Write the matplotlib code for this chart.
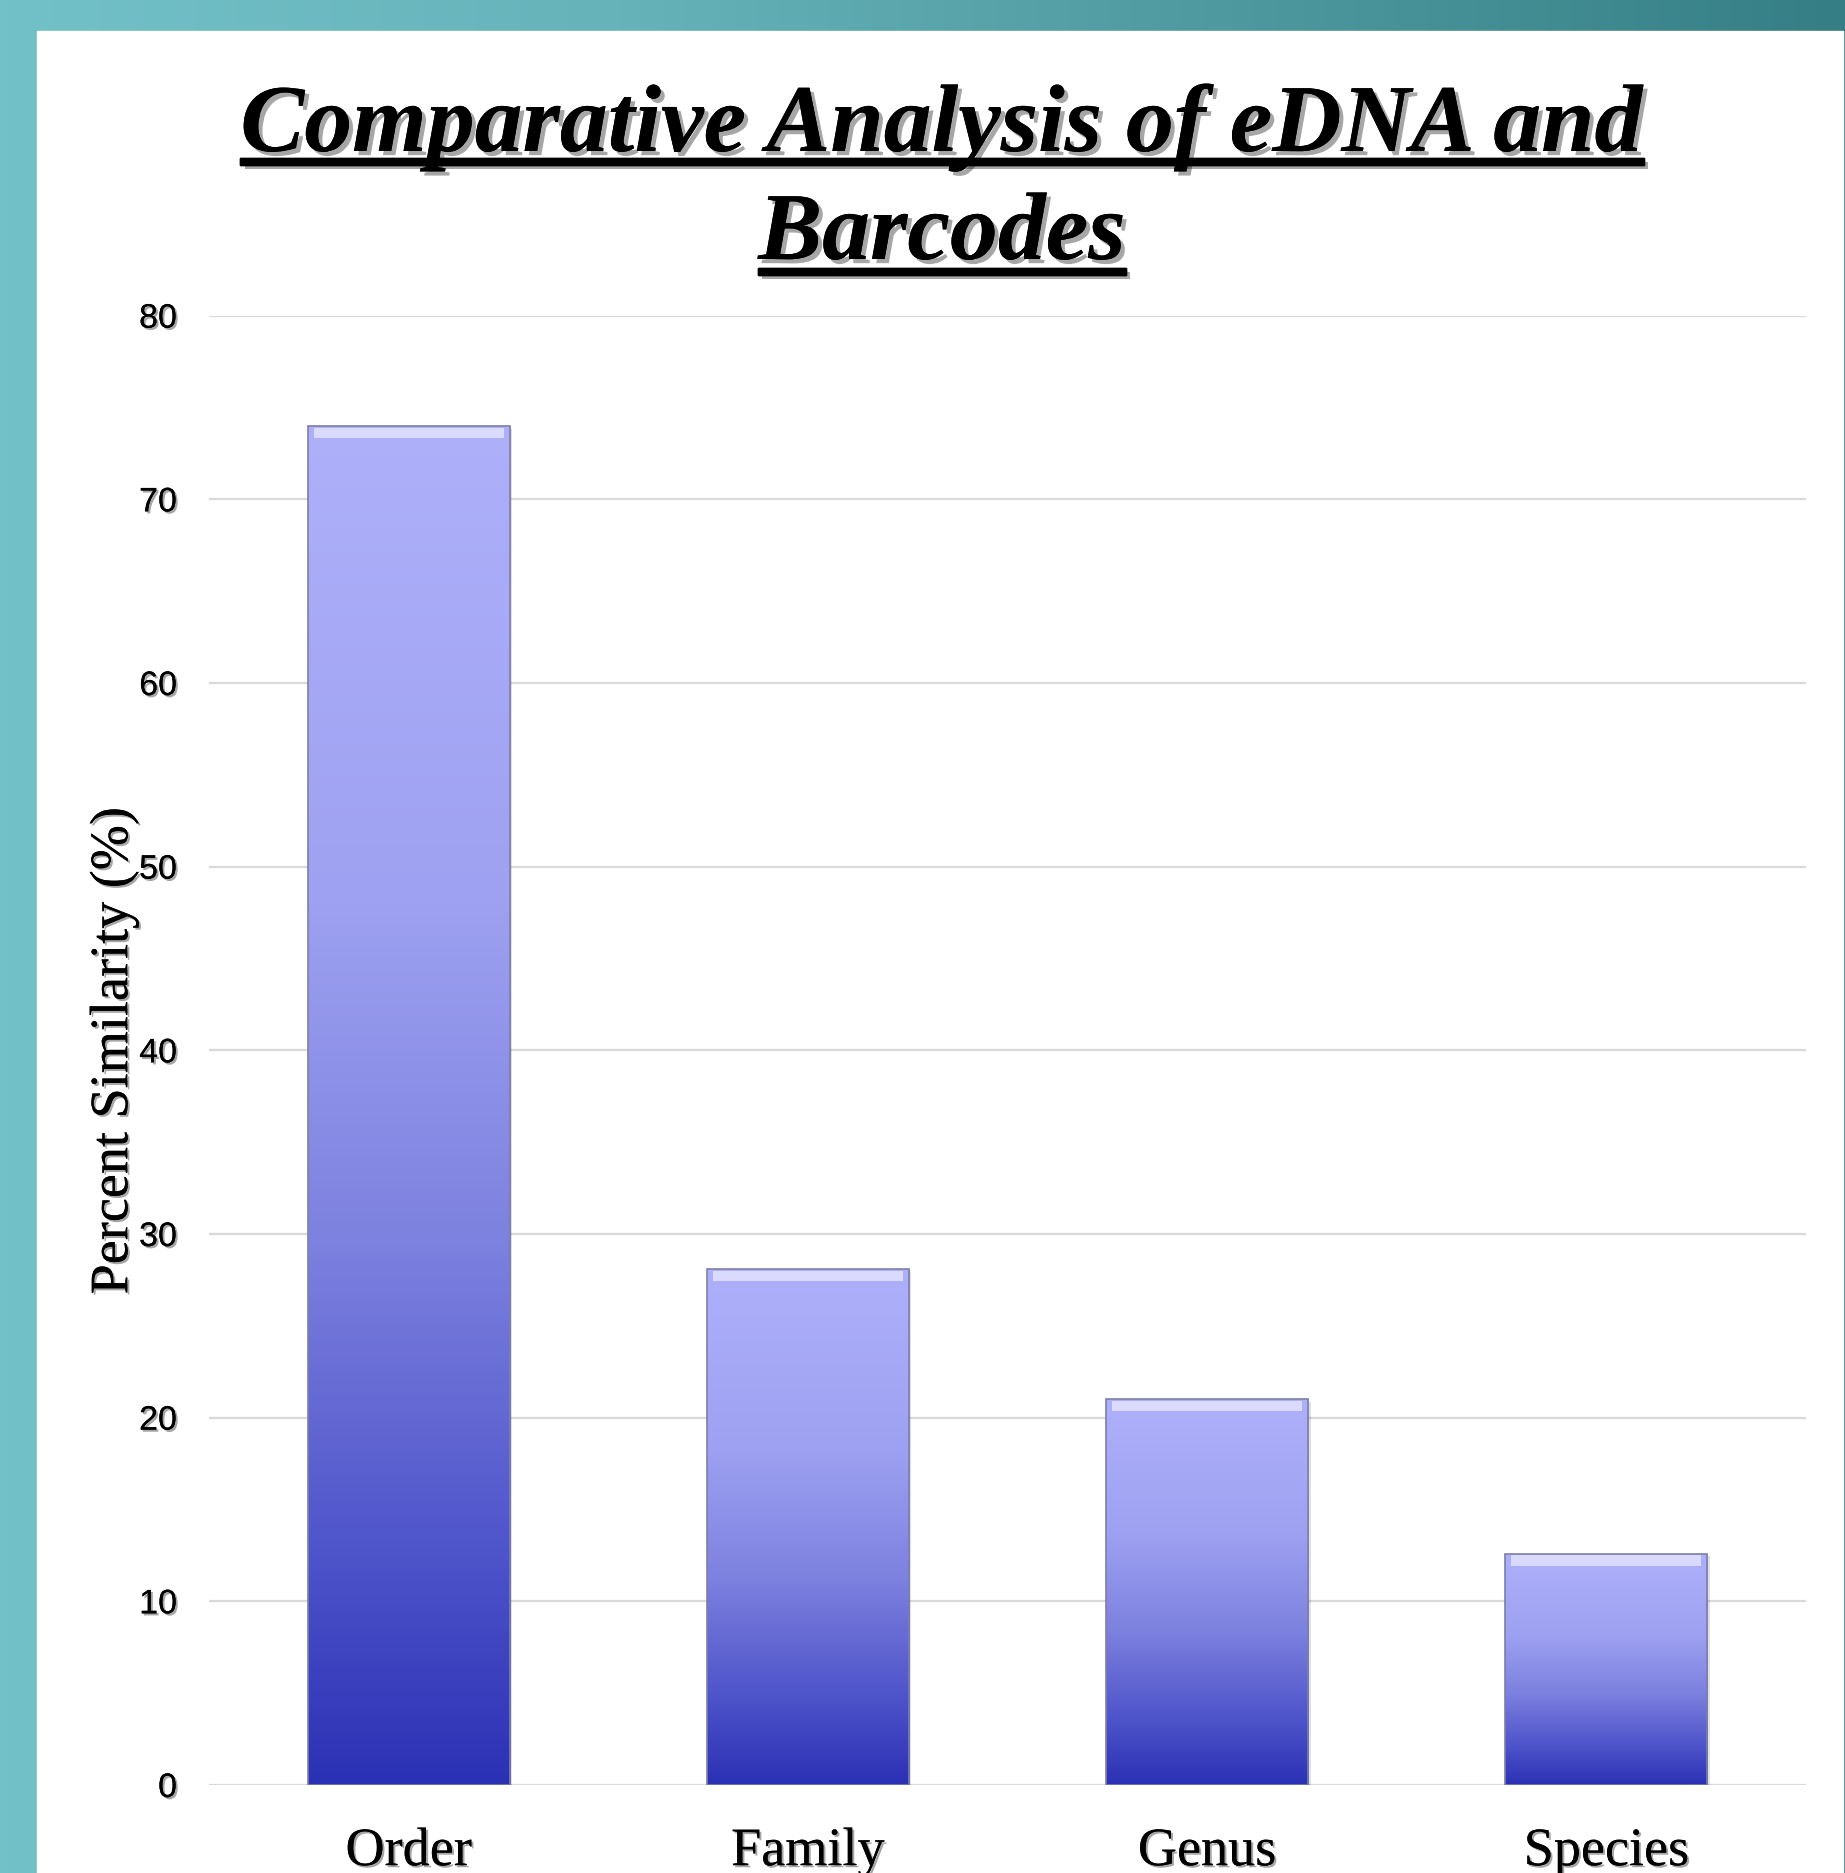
import matplotlib
matplotlib.use('Agg')
import matplotlib.pyplot as plt
import matplotlib.patheffects as pe
from matplotlib.colors import LinearSegmentedColormap
from matplotlib.patches import Rectangle
import numpy as np

##### data
categories = ['Order', 'Family', 'Genus', 'Species']
similarity = [74, 28.1, 21, 12.6]
yticks = [0, 10, 20, 30, 40, 50, 60, 70, 80]
title_lines = ['Comparative Analysis of eDNA and', 'Barcodes']
ylabel = 'Percent Similarity (%)'

W, H = 1845, 1874
fig = plt.figure(figsize=(W/100, H/100), dpi=100)

### teal frame with a horizontal gradient, white page on top
bg = fig.add_axes([0, 0, 1, 1], zorder=-10)
teal = LinearSegmentedColormap.from_list('teal', ['#73c1c8', '#66b3ba', '#4e999f', '#357e85'])
bg.imshow(np.linspace(0, 1, 256)[None, :], cmap=teal, aspect='auto', extent=[0, 1, 0, 1])
bg.add_patch(Rectangle((37/W, 0), (1843-37)/W, 1 - 32/H, color='white', transform=bg.transAxes))
bg.set_xlim(0, 1); bg.set_ylim(0, 1)
bg.axis('off')

### main axes
ax = fig.add_axes([209/W, 88/H, (1806-209)/W, (1786-316.7)/H])
ax.set_xlim(-0.5, 3.5)
ax.set_ylim(0, 80)
for s in ax.spines.values():
    s.set_visible(False)
ax.set_yticks(yticks)
ax.yaxis.grid(True, color='#d9d9d9', linewidth=1.6)
ax.set_axisbelow(True)
ax.tick_params(axis='y', length=0, pad=23, labelsize=24.5)
ax.tick_params(axis='x', length=0, pad=30)
shadow = [pe.withSimplePatchShadow(offset=(1.5, -1.5), alpha=0.35), pe.Normal()]
for lab in ax.get_yticklabels():
    lab.set_fontfamily('Liberation Sans')
    lab.set_path_effects(shadow)

bars = ax.bar(categories, similarity, width=0.506, color='none', edgecolor='#7d7fa8', linewidth=1.2, zorder=3)
ax.set_xticks(range(len(categories)))
ax.set_xticklabels(categories, fontfamily='Liberation Serif', fontsize=39)
for lab in ax.get_xticklabels():
    lab.set_path_effects(shadow)

bar_cmap = LinearSegmentedColormap.from_list('bar', [(0, '#aeb0fa'), (0.35, '#9ea1f1'), (0.6, '#7d81df'),
                                                      (0.82, '#5056cb'), (1, '#2b31b4')])
grad = np.linspace(0, 1, 256)[:, None]
for b in bars:
    x0, w, h = b.get_x(), b.get_width(), b.get_height()
    # soft drop shadow to the right
    ax.add_patch(Rectangle((x0 + 0.006, -0.15), w, h, color='#000000', alpha=0.12, zorder=1.5, linewidth=0))
    im = ax.imshow(grad, cmap=bar_cmap, aspect='auto', extent=[x0, x0 + w, 0, h], zorder=2)
    im.set_clip_path(b)
    # bevel highlight at the top
    ax.fill_between([x0 + 0.015, x0 + w - 0.015], h - 0.65, h - 0.1, color='white', alpha=0.55, zorder=2.5, linewidth=0)
ax.set_xlim(-0.5, 3.5)
ax.set_ylim(0, 80)

### y label
fig.text(114/W, 1 - 1052/H, ylabel, rotation=90, ha='center', va='center',
         fontfamily='Liberation Serif', fontsize=39, path_effects=shadow)

### title with underline
tshadow = [pe.withSimplePatchShadow(offset=(3, -3), alpha=0.35), pe.Normal()]
t1 = fig.text(942/W, 1 - 152/H, title_lines[0], ha='center', va='baseline', fontfamily='Liberation Serif',
              fontweight='bold', fontstyle='italic', fontsize=69, path_effects=tshadow)
t2 = fig.text(942/W, 1 - 260/H, title_lines[1], ha='center', va='baseline', fontfamily='Liberation Serif',
              fontweight='bold', fontstyle='italic', fontsize=69, path_effects=tshadow)
fig.canvas.draw()
r = fig.canvas.get_renderer()
for t, uy in [(t1, 162), (t2, 272)]:
    bb = t.get_window_extent(r)
    fig.add_artist(Rectangle((bb.x0/W, 1 - (uy + 3.5)/H), bb.width/W, 7/H, color='black',
                             transform=fig.transFigure, path_effects=tshadow))

fig.savefig('out.png', dpi=100)
